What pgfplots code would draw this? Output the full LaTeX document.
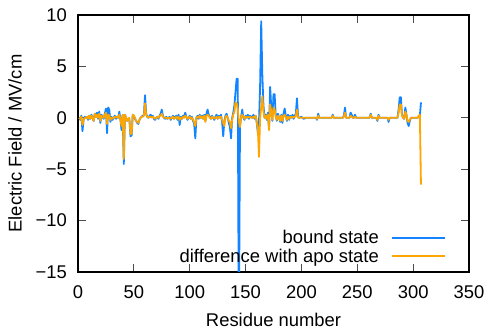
\documentclass[border=0pt]{standalone}
\usepackage{fontspec}
\setmainfont{Liberation Sans}
\usepackage{pgfplots}
\pgfplotsset{compat=1.18}
\usepackage{pgfplotstable}
\definecolor{gblue}{RGB}{18,132,255}
\definecolor{gorange}{RGB}{255,165,0}
\newcommand\gf{\fontsize{18.4bp}{22bp}\selectfont}
\pgfplotstableread{
r b o
1 0.0 0.0
2 -0.2 -0.1
3 0.2 0.1
4 -1.3 -0.7
5 -0.2 -0.2
6 0.1 0.0
7 0.0 0.0
8 0.1 0.1
9 -0.2 -0.1
10 0.2 0.2
11 -0.1 -0.1
12 0.3 0.2
13 0.0 0.0
14 -0.3 -0.3
15 0.4 0.4
16 0.1 0.1
17 0.5 0.3
18 -0.1 0.0
19 0.6 0.4
20 -0.5 -0.3
21 0.3 0.2
22 0.1 0.1
23 -0.1 0.0
24 0.4 0.3
25 0.9 0.5
26 -1.5 -0.6
27 1.0 0.3
28 0.8 0.2
29 -0.4 -0.2
30 0.1 0.0
31 -0.2 -0.1
32 0.0 0.0
33 0.2 0.1
34 -0.1 0.0
35 0.1 0.1
36 0.0 0.0
37 0.6 0.3
38 -0.2 -0.2
39 -1.2 -0.8
40 0.3 0.3
41 -4.5 -4.0
42 0.3 0.3
43 0.0 0.0
44 -0.3 -0.3
45 -0.1 -0.1
46 -0.2 0.0
47 -1.8 -1.6
48 -1.7 -1.5
49 0.3 0.3
50 0.2 0.2
51 -0.1 0.0
52 -0.3 -0.3
53 -0.5 -0.4
54 -0.6 -0.5
55 -0.2 -0.2
56 0.0 0.0
57 0.1 0.1
58 0.2 0.1
59 0.3 0.2
60 2.2 1.4
61 0.4 0.3
62 0.1 0.1
63 0.0 0.0
64 0.2 0.1
65 0.3 0.1
66 0.1 0.0
67 0.2 0.1
68 -0.1 0.0
69 -0.2 -0.1
70 0.0 0.0
71 0.1 0.1
72 -0.1 0.0
73 0.2 0.2
74 0.4 0.2
75 0.8 0.4
76 0.2 0.1
77 0.0 0.0
78 -0.1 0.0
79 0.1 0.0
80 -0.1 -0.1
81 0.0 0.0
82 0.1 0.0
83 -0.2 -0.1
84 0.0 0.0
85 0.2 0.1
86 -0.1 -0.1
87 0.1 0.0
88 0.2 0.1
89 -0.2 -0.1
90 0.3 0.1
91 -0.7 -0.2
92 0.1 0.0
93 -0.1 -0.1
94 0.2 0.1
95 0.1 0.0
96 0.5 0.2
97 0.1 0.1
98 -0.2 -0.1
99 0.0 0.0
100 0.2 0.1
101 -0.1 -0.1
102 0.1 0.0
103 -0.3 -0.2
104 -0.6 -0.4
105 -2.0 -0.8
106 0.0 0.0
107 0.2 0.1
108 -0.1 0.0
109 0.3 0.2
110 0.0 0.0
111 0.2 0.1
112 -0.1 -0.1
113 0.3 0.2
114 -0.3 -0.4
115 0.4 0.2
116 0.8 0.3
117 0.3 0.2
118 0.1 0.0
119 -0.1 -0.1
120 0.2 0.1
121 0.0 0.0
122 -0.2 -0.1
123 0.1 0.0
124 0.3 0.1
125 -0.1 -0.1
126 0.2 0.1
127 0.0 0.0
128 0.3 0.1
129 -0.4 -0.2
130 -1.8 -0.5
131 -0.3 -0.8
132 0.2 0.1
133 0.4 0.2
134 0.0 0.0
135 -0.5 -0.3
136 -0.9 -0.4
137 -2.0 -1.0
138 0.0 -0.2
139 0.5 0.3
140 1.2 0.6
141 2.5 1.5
142 3.8 1.4
143 3.8 0.9
144 -22.0 -0.4
145 -0.8 -0.9
146 0.1 0.1
147 0.8 0.3
148 0.0 0.1
149 -0.2 -0.1
150 0.2 0.1
151 0.0 0.0
152 0.3 0.1
153 -0.1 0.0
154 0.2 0.1
155 0.1 0.0
156 0.0 0.0
157 0.3 0.1
158 -0.1 0.0
159 0.2 0.2
160 -0.4 -0.5
161 -1.5 -1.0
162 -0.5 -3.8
163 3.0 0.0
164 9.4 1.0
165 4.2 2.1
166 1.2 0.6
167 0.0 0.0
168 0.3 0.2
169 -0.2 -0.1
170 0.5 0.3
171 -1.0 -1.2
172 3.0 1.3
173 1.0 0.6
174 -0.3 -0.2
175 2.3 1.0
176 2.3 0.8
177 0.2 0.1
178 -0.3 -0.2
179 0.4 0.2
180 0.0 0.0
181 -0.4 -0.3
182 0.3 0.2
183 -0.5 -0.3
184 0.4 0.2
185 0.9 0.3
186 0.2 0.1
187 -0.3 -0.2
188 0.3 0.1
189 -0.2 -0.1
190 0.2 0.1
191 0.0 0.0
192 0.3 0.1
193 -0.1 0.0
194 0.2 0.1
195 0.4 0.2
196 1.9 0.8
197 0.1 0.0
198 0.0 0.0
200 0.1 0.0
202 -0.1 0.0
204 0.0 0.0
213 0.0 0.0
214 -0.2 -0.1
215 0.4 0.2
216 0.0 0.0
227 0.0 0.0
228 0.3 0.2
229 0.0 0.0
237 0.0 0.0
238 0.2 0.1
239 1.0 0.5
240 0.0 0.0
243 0.0 0.0
244 0.5 0.2
245 0.3 0.1
246 0.0 0.0
247 0.0 0.0
248 0.3 0.1
249 0.0 0.0
261 0.0 0.0
262 0.4 0.3
263 0.0 0.0
267 0.0 0.0
268 -0.3 -0.2
269 0.3 0.2
270 0.0 0.0
277 0.0 0.0
278 -0.4 -0.2
279 0.0 0.0
286 0.0 0.0
287 0.8 0.5
288 2.0 1.3
289 2.0 1.3
290 0.3 0.2
291 0.0 0.0
292 -0.1 -0.1
293 1.0 0.6
294 0.3 0.3
295 -0.5 -0.3
296 -0.8 -0.4
297 -0.3 -0.2
298 0.0 0.0
304 0.0 0.0
305 0.1 0.2
306 0.2 0.3
307 1.5 -6.5
}\datatable
\begin{document}
\begin{tikzpicture}
\begin{axis}[
  name=ax,
  scale only axis, width=391bp, height=257bp,
  xmin=0, xmax=350, ymin=-15, ymax=10,
  xtick={0,50,...,350}, ytick={-15,-10,-5,0,5,10},
  xticklabels={0,50,100,150,200,250,300,350},
  yticklabels={−15,−10,−5,0,5,10},
  tick align=inside, major tick length=8bp,
  every tick/.style={line width=0.8bp, black!70},
  axis line style={line width=1.2bp, black},
  every tick label/.append style={font=\gf},
  yticklabel style={inner sep=0pt, anchor=east, xshift=-11bp},
  xticklabel style={inner sep=0pt, anchor=north, yshift=-13bp},
  xlabel={Residue number}, ylabel={Electric Field / MV/cm},
  label style={font=\gf},
  xlabel style={at={(axis description cs:0.5,-0.1868)}, anchor=center},
  ylabel style={at={(axis description cs:-0.161,0.5)}, anchor=center},
  legend plot pos=right,
  legend cell align=right,
  legend image code/.code={\draw[#1] (0bp,0bp) -- (53bp,0bp);},
  legend style={at={(1,0)}, anchor=south east, xshift=-23bp, yshift=8bp,
    draw=none, fill=none, inner sep=0pt, font=\gf, column sep=12bp, row sep=4bp,
    nodes={inner sep=0pt}},
]
\addlegendimage{draw=gblue, line width=2bp}
\addlegendentry{bound state}
\addlegendimage{draw=gorange, line width=2bp}
\addlegendentry{difference with apo state}
\addplot[draw=gblue, line width=1.8bp, line join=round, forget plot] table[x=r, y=b] {\datatable};
\addplot[draw=gorange, line width=1.8bp, line join=round, forget plot] table[x=r, y=o] {\datatable};
\end{axis}
\pgfresetboundingbox
\path[use as bounding box] ([xshift=-78bp,yshift=-57bp]ax.south west) rectangle ([xshift=18bp,yshift=15bp]ax.north east);
\end{tikzpicture}
\end{document}
